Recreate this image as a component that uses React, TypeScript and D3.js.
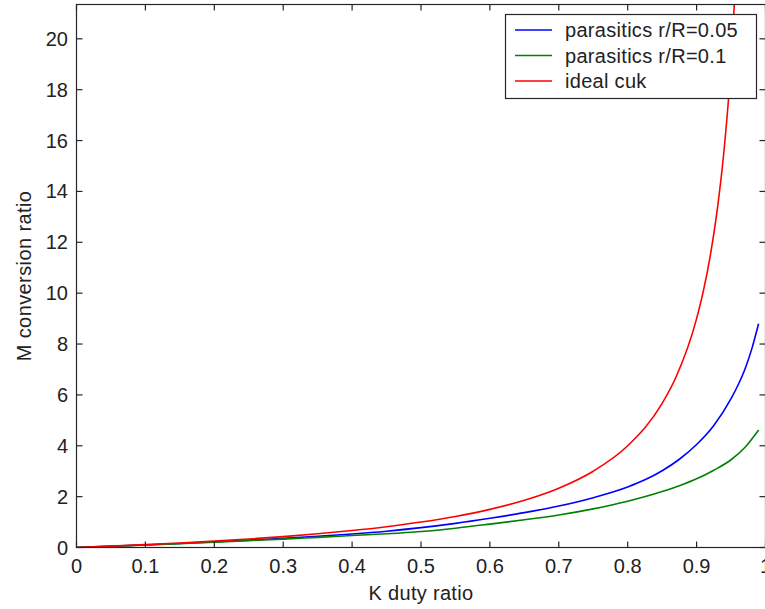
import React, { useEffect } from "react";
import * as d3 from "d3";

const dutyRed = [0, 0.05, 0.1, 0.15, 0.2, 0.25, 0.3, 0.35, 0.4, 0.45, 0.5, 0.55, 0.6, 0.65, 0.7, 0.75, 0.8, 0.85, 0.87, 0.9, 0.91, 0.92, 0.93, 0.94, 0.95, 0.96];
const idealCuk = [0, 0.0526, 0.1111, 0.1765, 0.25, 0.3333, 0.4286, 0.5385, 0.6667, 0.8182, 1.0, 1.2222, 1.5, 1.8571, 2.3333, 3.0, 4.0, 5.6667, 6.6923, 9.0, 10.111, 11.5, 13.286, 15.667, 19.0, 24.0];

const dutyBlue = [0, 0.05, 0.1, 0.15, 0.2, 0.25, 0.3, 0.35, 0.4, 0.45, 0.5, 0.55, 0.6, 0.65, 0.7, 0.75, 0.8, 0.825, 0.85, 0.875, 0.9, 0.925, 0.95, 0.96, 0.97, 0.98, 0.99];
const par005 = [0, 0.05, 0.1, 0.16, 0.22, 0.29, 0.36, 0.44, 0.53, 0.64, 0.78, 0.95, 1.15, 1.37, 1.63, 1.96, 2.38, 2.66, 3.02, 3.47, 4.05, 4.8, 5.85, 6.38, 7.0, 7.8, 8.8];

const dutyGreen = [0, 0.05, 0.1, 0.15, 0.2, 0.25, 0.3, 0.35, 0.4, 0.45, 0.5, 0.55, 0.6, 0.65, 0.7, 0.75, 0.8, 0.85, 0.875, 0.9, 0.925, 0.95, 0.97, 0.99];
const par01 = [0, 0.05, 0.1, 0.15, 0.21, 0.27, 0.33, 0.4, 0.47, 0.54, 0.63, 0.76, 0.92, 1.09, 1.28, 1.52, 1.82, 2.2, 2.43, 2.7, 3.04, 3.45, 3.93, 4.62];

const xTicks = [0, 0.1, 0.2, 0.3, 0.4, 0.5, 0.6, 0.7, 0.8, 0.9, 1];
const yTicks = [0, 2, 4, 6, 8, 10, 12, 14, 16, 18, 20];

const legendLabels = ["parasitics r/R=0.05", "parasitics r/R=0.1", "ideal cuk"];
const legendColors = ["#0000ff", "#008000", "#ff0000"];

export default function App() {
  useEffect(() => {
    document.body.style.margin = "0";
  }, []);

  const W = 765;
  const H = 609;
  const left = 76.5;
  const right = 765.5;
  const top = 4.5;
  const bottom = 547.5;
  const x = d3.scaleLinear().domain([0, 1]).range([left, right]);
  const y = d3.scaleLinear().domain([0, 21.35]).range([bottom, top]);

  const line = (xs: number[], ys: number[]) =>
    d3
      .line<number>()
      .x((_, i) => x(xs[i]))
      .y((d) => y(d))
      .curve(d3.curveMonotoneX)(ys) || "";

  const series = [
    { xs: dutyBlue, ys: par005, color: legendColors[0] },
    { xs: dutyGreen, ys: par01, color: legendColors[1] },
    { xs: dutyRed, ys: idealCuk, color: legendColors[2] },
  ];

  const font = "'Liberation Sans', Arial, sans-serif";
  const axisColor = "#262626";
  const tickLen = 6;

  const lgX = 505.5;
  const lgY = 14.5;
  const lgW = 251;
  const lgH = 84;

  return (
    <svg width={W} height={H} style={{ display: "block", background: "#fff" }} fontFamily={font}>
      <defs>
        <clipPath id="plotClip">
          <rect x={left} y={top} width={right - left} height={bottom - top} />
        </clipPath>
      </defs>
      <rect x={0} y={0} width={W} height={H} fill="#fff" />
      <g clipPath="url(#plotClip)">
        {series.map((s, i) => (
          <path key={i} d={line(s.xs, s.ys)} fill="none" stroke={s.color} strokeWidth={1.6} />
        ))}
      </g>
      <rect x={left} y={top} width={right - left} height={bottom - top} fill="none" stroke={axisColor} strokeWidth={1.2} />
      {xTicks.map((t) => (
        <g key={"x" + t}>
          <line x1={x(t)} x2={x(t)} y1={bottom} y2={bottom - tickLen} stroke={axisColor} strokeWidth={1.2} />
          <line x1={x(t)} x2={x(t)} y1={top} y2={top + tickLen} stroke={axisColor} strokeWidth={1.2} />
          <text x={x(t)} y={573} textAnchor="middle" fontSize={20} fill="#222">
            {String(t)}
          </text>
        </g>
      ))}
      {yTicks.map((t) => (
        <g key={"y" + t}>
          <line x1={left} x2={left + tickLen} y1={y(t)} y2={y(t)} stroke={axisColor} strokeWidth={1.2} />
          <line x1={right} x2={right - tickLen} y1={y(t)} y2={y(t)} stroke={axisColor} strokeWidth={1.2} />
          <text x={68} y={y(t)} textAnchor="end" dominantBaseline="central" fontSize={20} fill="#222">
            {String(t)}
          </text>
        </g>
      ))}
      <text x={(left + right) / 2} y={600} textAnchor="middle" fontSize={20} fill="#222" letterSpacing={0.3}>
        K duty ratio
      </text>
      <text
        transform={`translate(31, ${(top + bottom) / 2}) rotate(-90)`}
        textAnchor="middle"
        fontSize={20}
        fill="#222"
        letterSpacing={0.4}
      >
        M conversion ratio
      </text>
      <rect x={lgX} y={lgY} width={lgW} height={lgH} fill="#fff" stroke={axisColor} strokeWidth={1.2} />
      {legendLabels.map((lab, i) => {
        const ly = 30 + i * 25.5;
        return (
          <g key={lab}>
            <line x1={515} x2={552} y1={ly} y2={ly} stroke={legendColors[i]} strokeWidth={1.6} />
            <text x={565} y={ly} dominantBaseline="central" fontSize={20} fill="#222" letterSpacing={0.3}>
              {lab}
            </text>
          </g>
        );
      })}
    </svg>
  );
}
